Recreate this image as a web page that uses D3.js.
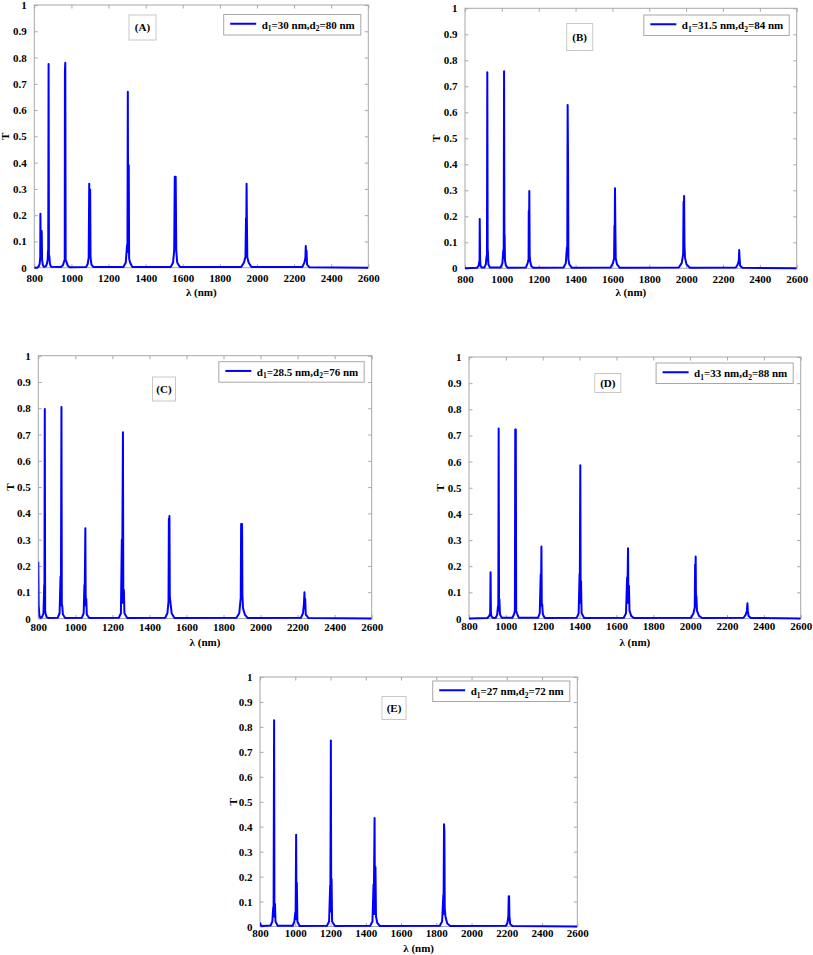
<!DOCTYPE html>
<html><head><meta charset="utf-8">
<script src="https://cdn.jsdelivr.net/npm/d3@7"></script>
<style>
body{margin:0;background:#fff}
text{font-family:"Liberation Serif","Times New Roman",serif;font-weight:bold;fill:#000}
</style></head>
<body><svg id="chart" width="813" height="955"></svg>
<script>
// ---------------- data ----------------
const xTicks = [800,1000,1200,1400,1600,1800,2000,2200,2400,2600];
const yTicks = [0,0.1,0.2,0.3,0.4,0.5,0.6,0.7,0.8,0.9,1];
const yTickLabels = ["0","0.1","0.2","0.3","0.4","0.5","0.6","0.7","0.8","0.9","1"];
const panelLabels = ["(A)","(B)","(C)","(D)","(E)"];
const d1Values = ["30","31.5","28.5","33","27"];
const d2Values = ["80","84","76","88","72"];

const wlA = [800,815,824,829,832,833,835,838,840,842,846,852,
  862,868,872,874,875,877,879,881,884,890,
  945,955,961,964,965,967,969,972,980,990,
  1080,1088,1093,1096,1098,1101,1103,1108,1118,
  1280,1293,1300,1302,1304,1306,1309,1311,1316,1328,
  1535,1548,1554,1557,1559,1562,1565,1570,1585,
  1915,1930,1938,1941,1942,1944,1946,1948,1955,1970,
  2245,2256,2261,2263,2265,2267,2270,2282,2600];
const tA = [0,0,0.005,0.015,0.04,0.205,0.06,0.04,0.14,0.03,0.01,0.003,
  0.005,0.015,0.03,0.065,0.04,0.775,0.04,0.045,0.015,0.004,
  0.003,0.01,0.025,0.03,0.746,0.78,0.03,0.025,0.008,0.002,
  0.003,0.015,0.038,0.32,0.05,0.298,0.04,0.012,0.003,
  0.003,0.02,0.086,0.06,0.67,0.1,0.39,0.035,0.02,0.003,
  0.003,0.02,0.067,0.346,0.2,0.346,0.067,0.02,0.003,
  0.003,0.02,0.042,0.188,0.1,0.32,0.16,0.04,0.02,0.003,
  0.003,0.02,0.038,0.083,0.04,0.065,0.012,0.002,0];

const wlB = [800,865,874,879,880,882,884,890,
  905,913,917,919,921,923,924,927,935,
  993,1003,1008,1010,1012,1014,1015,1017,1022,1032,
  1130,1140,1145,1146,1147,1149,1151,1153,1160,1170,
  1335,1347,1353,1355,1357,1359,1361,1366,1380,
  1590,1603,1609,1611,1612,1614,1616,1618,1625,1640,
  1960,1976,1984,1986,1987,1989,1991,1994,2002,2020,
  2270,2280,2286,2288,2290,2293,2305,2600];
const tB = [0,0.002,0.01,0.03,0.19,0.035,0.01,0.003,
  0.003,0.015,0.047,0.03,0.754,0.04,0.068,0.015,0.003,
  0.003,0.02,0.07,0.04,0.758,0.05,0.128,0.03,0.01,0.002,
  0.003,0.02,0.035,0.22,0.06,0.297,0.05,0.03,0.008,0.002,
  0.003,0.02,0.08,0.05,0.628,0.43,0.035,0.015,0.002,
  0.003,0.02,0.038,0.164,0.08,0.308,0.147,0.038,0.015,0.002,
  0.003,0.02,0.055,0.256,0.15,0.278,0.087,0.04,0.015,0.002,
  0.003,0.015,0.03,0.07,0.038,0.01,0.002,0];

const wlC = [800,802,806,812,
  820,828,832,833,835,837,839,845,855,
  905,915,920,922,925,927,929,933,945,
  1035,1045,1049,1050,1054,1056,1059,1062,1075,
  1235,1246,1251,1252,1257,1259,1262,1265,1280,
  1485,1497,1503,1505,1506,1508,1510,1513,1520,1535,
  1870,1885,1893,1895,1897,1900,1902,1905,1915,1930,
  2218,2229,2234,2237,2239,2241,2244,2258,2600];
const tC = [0.216,0.05,0.01,0.003,
  0.005,0.02,0.127,0.05,0.797,0.03,0.02,0.005,0.002,
  0.003,0.02,0.16,0.05,0.805,0.05,0.05,0.015,0.002,
  0.003,0.02,0.127,0.05,0.343,0.05,0.074,0.015,0.002,
  0.003,0.02,0.3,0.06,0.709,0.06,0.108,0.02,0.002,
  0.003,0.02,0.064,0.38,0.2,0.39,0.08,0.064,0.02,0.002,
  0.003,0.02,0.08,0.36,0.2,0.36,0.09,0.04,0.015,0.002,
  0.003,0.02,0.055,0.1,0.04,0.074,0.015,0.002,0];

const wlD = [800,900,910,915,917,919,922,932,
  945,953,957,959,961,963,965,968,978,
  1035,1044,1049,1051,1052,1054,1056,1060,1070,
  1175,1184,1189,1190,1193,1195,1197,1201,1212,
  1385,1395,1400,1401,1404,1406,1408,1411,1425,
  1640,1652,1658,1659,1663,1665,1668,1671,1680,1695,
  2005,2018,2025,2027,2028,2030,2032,2034,2037,2048,2065,
  2290,2302,2308,2311,2313,2317,2330,2600];
const tD = [0,0.002,0.01,0.02,0.177,0.02,0.008,0.002,
  0.003,0.015,0.046,0.03,0.727,0.04,0.074,0.015,0.003,
  0.003,0.015,0.03,0.723,0.6,0.723,0.03,0.02,0.003,
  0.003,0.02,0.168,0.05,0.275,0.05,0.055,0.015,0.002,
  0.003,0.02,0.17,0.06,0.586,0.06,0.142,0.02,0.002,
  0.003,0.02,0.157,0.06,0.269,0.06,0.125,0.03,0.01,0.002,
  0.003,0.02,0.042,0.206,0.12,0.237,0.05,0.085,0.03,0.01,0.002,
  0.003,0.015,0.03,0.058,0.03,0.01,0.002,0];

const wlE = [800,804,812,
  860,870,875,877,880,882,885,888,900,
  985,995,1000,1002,1005,1007,1009,1012,1025,
  1180,1192,1198,1199,1202,1204,1206,1209,1225,
  1425,1438,1444,1445,1450,1452,1455,1458,1465,1480,
  1820,1833,1840,1841,1844,1846,1848,1852,1862,1880,
  2195,2204,2209,2211,2213,2215,2219,2232,2600];
const tE = [0.016,0.005,0.002,
  0.004,0.02,0.077,0.04,0.827,0.04,0.09,0.02,0.003,
  0.003,0.02,0.056,0.03,0.368,0.05,0.175,0.02,0.002,
  0.003,0.02,0.164,0.06,0.745,0.08,0.19,0.02,0.002,
  0.003,0.02,0.168,0.05,0.435,0.05,0.238,0.04,0.015,0.002,
  0.003,0.02,0.126,0.05,0.41,0.38,0.073,0.04,0.012,0.002,
  0.003,0.015,0.043,0.121,0.121,0.043,0.01,0.002,0];

const seriesWl = [wlA,wlB,wlC,wlD,wlE];
const seriesT = [tA,tB,tC,tD,tE];

// ---------------- layout ----------------
const panels = [
  {x0:34.3,x1:368.3,y0:5,y1:267.7, tag:[142.5,27.5,27,25], legTop:9.5, pad:7, xl:28.6, yl:25},
  {x0:465,x1:796.7,y0:8.3,y1:268.3, tag:[579.7,37,26,27], legTop:6.7, pad:6.5, xl:28, yl:25.3},
  {x0:38.3,x1:371.7,y0:355.7,y1:618.5, tag:[164,389,23,24], legTop:6, pad:4.5, xl:27.5, yl:24.6},
  {x0:469,x1:800.7,y0:357,y1:618.5, tag:[607.8,383,26,19], legTop:6, pad:4, xl:27.5, yl:25.3},
  {x0:260,x1:577.3,y0:677,y1:926.5, tag:[394,708,24,23], legTop:4, pad:3, xl:25, yl:23}
];

const svg = d3.select("#chart");
const axisCol = "#a8a8a8";

panels.forEach((p,i)=>{
  const x = d3.scaleLinear().domain([800,2600]).range([p.x0,p.x1]);
  const y = d3.scaleLinear().domain([0,1]).range([p.y1,p.y0]);
  const g = svg.append("g");

  g.append("clipPath").attr("id","clip"+i).append("rect")
    .attr("x",p.x0).attr("y",p.y0-2).attr("width",p.x1-p.x0).attr("height",p.y1-p.y0+4);

  g.append("rect").attr("x",p.x0).attr("y",p.y0).attr("width",p.x1-p.x0).attr("height",p.y1-p.y0)
    .attr("fill","#fff").attr("stroke",axisCol).attr("stroke-width",1);

  const tickLen = 3.5;
  const bottom = g.append("g").attr("transform",`translate(0,${p.y1})`)
    .call(d3.axisBottom(x).tickValues(xTicks).tickSizeInner(-tickLen).tickSizeOuter(0).tickPadding(p.pad).tickFormat(d3.format("d")));
  const top = g.append("g").attr("transform",`translate(0,${p.y0})`)
    .call(d3.axisTop(x).tickValues(xTicks).tickSizeInner(-tickLen).tickSizeOuter(0).tickFormat(""));
  const left = g.append("g").attr("transform",`translate(${p.x0},0)`)
    .call(d3.axisLeft(y).tickValues(yTicks).tickSizeInner(-tickLen).tickSizeOuter(0).tickPadding(7.5).tickFormat((d,k)=>yTickLabels[k]));
  const right = g.append("g").attr("transform",`translate(${p.x1},0)`)
    .call(d3.axisRight(y).tickValues(yTicks).tickSizeInner(-tickLen).tickSizeOuter(0).tickFormat(""));
  [bottom,top,left,right].forEach(a=>{
    a.select(".domain").remove();
    a.selectAll("line").attr("stroke",axisCol);
    a.selectAll("text").attr("font-size",11).attr("font-family",null).style("fill","#000");
  });

  g.append("text").attr("x",(p.x0+p.x1)/2).attr("y",p.y1+p.xl).attr("text-anchor","middle")
    .attr("font-size",11).text("λ (nm)");
  g.append("text").attr("transform",`translate(${p.x0-p.yl},${(p.y0+p.y1)/2}) rotate(-90)`)
    .attr("text-anchor","middle").attr("font-size",11).text("T");

  const pts = seriesWl[i].map((w,k)=>[w,seriesT[i][k]]);
  const line = d3.line().x(d=>x(d[0])).y(d=>y(d[1]));
  g.append("path").datum(pts).attr("d",line).attr("fill","none")
    .attr("stroke","#0000ff").attr("stroke-width",2).attr("stroke-linejoin","round")
    .attr("clip-path",`url(#clip${i})`);

  const lg = g.append("g");
  const legH = 20.5;
  const ly = p.y0 + p.legTop;
  const txt = lg.append("text").attr("font-size",11).attr("y",ly+legH/2+3.8);
  txt.append("tspan").text("d");
  txt.append("tspan").attr("font-size",7.5).attr("dy",2.5).text("1");
  txt.append("tspan").attr("dy",-2.5).text("="+d1Values[i]+" nm,d");
  txt.append("tspan").attr("font-size",7.5).attr("dy",2.5).text("2");
  txt.append("tspan").attr("dy",-2.5).text("="+d2Values[i]+" nm");
  const tw = txt.node().getComputedTextLength();
  const boxW = tw + 44;
  const bx = p.x1 - 7.5 - boxW;
  lg.insert("rect","text").attr("x",bx).attr("y",ly).attr("width",boxW).attr("height",legH)
    .attr("fill","#fff").attr("stroke",axisCol).attr("stroke-width",1);
  lg.append("line").attr("x1",bx+6.5).attr("x2",bx+32.5).attr("y1",ly+legH/2-1).attr("y2",ly+legH/2-1)
    .attr("stroke","#0000ff").attr("stroke-width",2);
  txt.attr("x",bx+38);

  const [cx,cy,w,h] = p.tag;
  g.append("rect").attr("x",cx-w/2).attr("y",cy-h/2).attr("width",w).attr("height",h)
    .attr("fill","#fff").attr("stroke","#c8c8c8").attr("stroke-width",1);
  g.append("text").attr("x",cx).attr("y",cy+3.8).attr("text-anchor","middle").attr("font-size",11)
    .text(panelLabels[i]);
});
</script></body></html>
